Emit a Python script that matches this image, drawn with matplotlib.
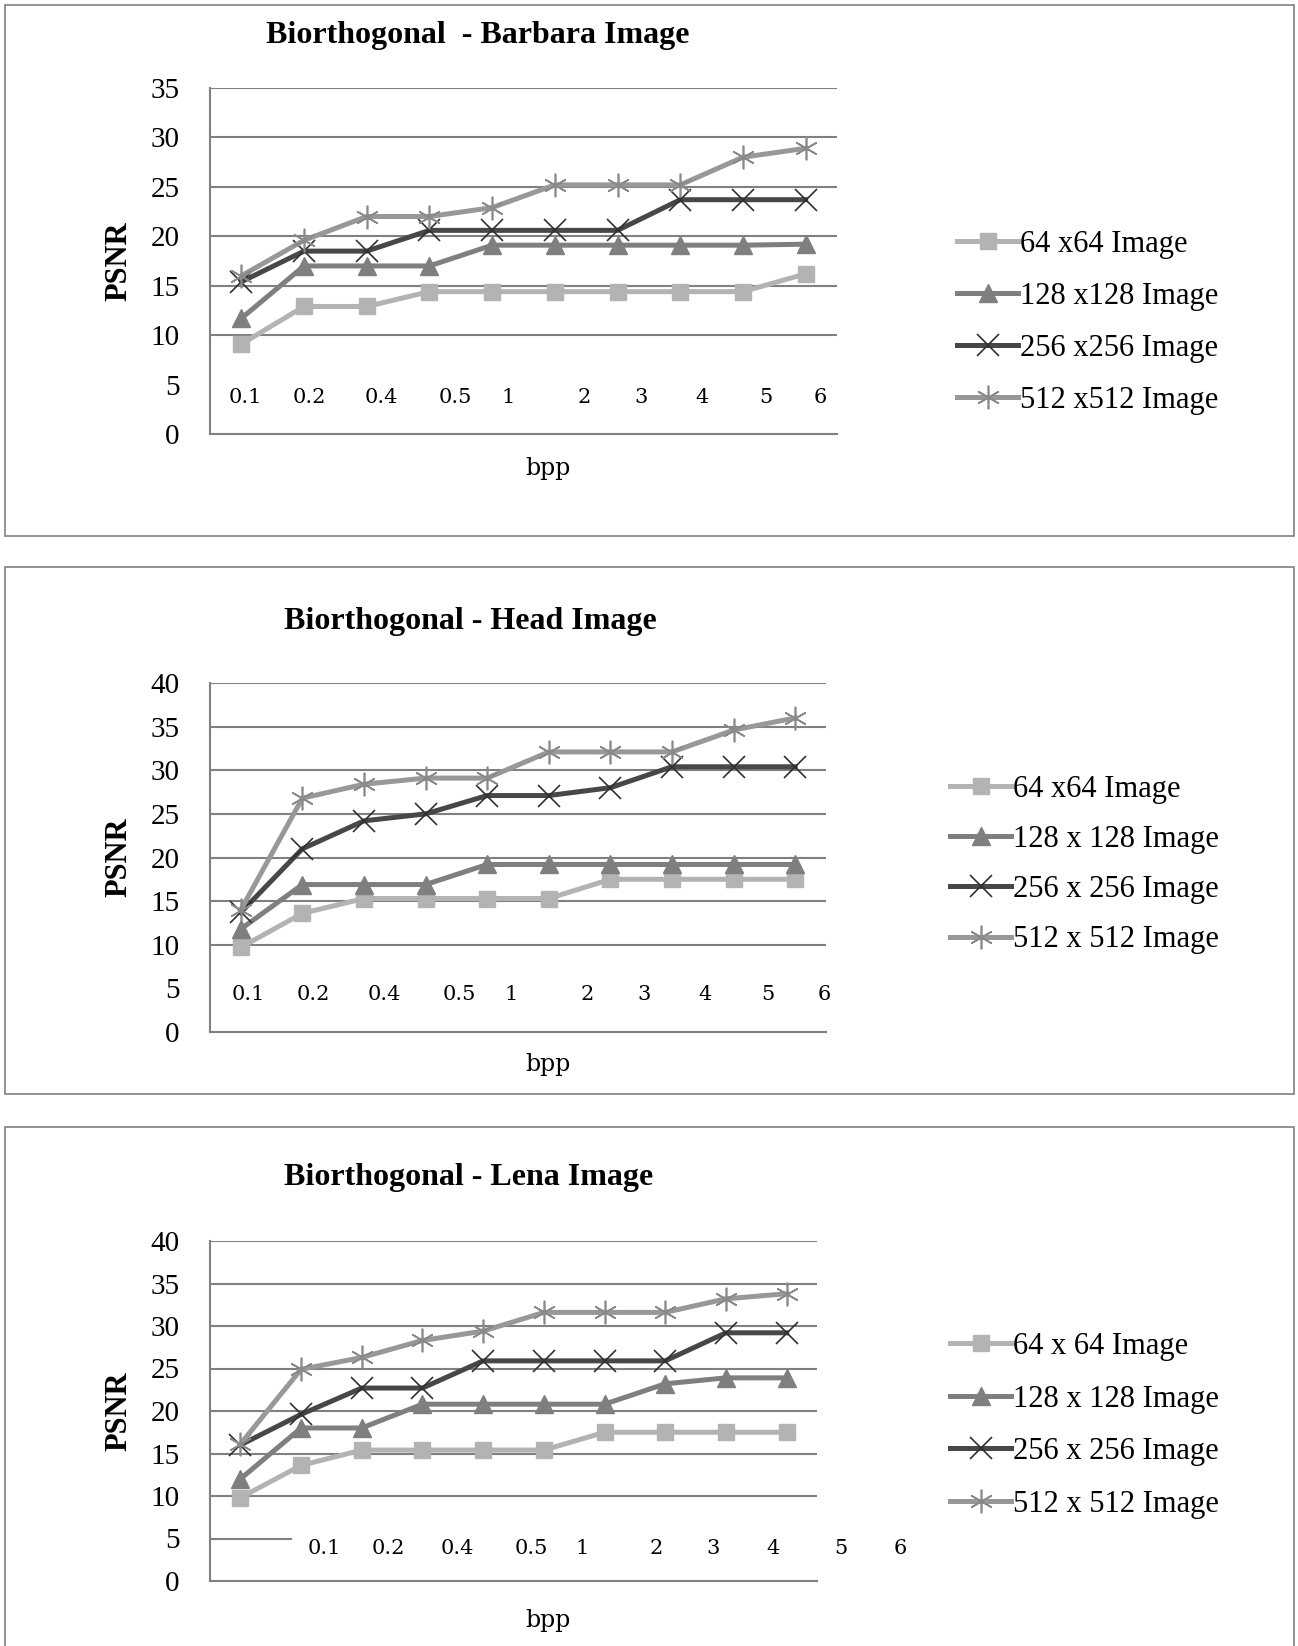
import matplotlib
matplotlib.use("Agg")
import matplotlib.pyplot as plt
from matplotlib.patches import Rectangle

plt.rcParams['font.family'] = ['Liberation Serif', 'DejaVu Serif']

bpp_labels = ["0.1", "0.2", "0.4", "0.5", "1", "2", "3", "4", "5", "6"]

# Barbara
barbara_64 = [9.1, 12.9, 12.9, 14.4, 14.4, 14.4, 14.4, 14.4, 14.4, 16.2]
barbara_128 = [11.7, 17.0, 17.0, 17.0, 19.1, 19.1, 19.1, 19.1, 19.1, 19.2]
barbara_256 = [15.4, 18.5, 18.5, 20.6, 20.6, 20.6, 20.6, 23.7, 23.7, 23.7]
barbara_512 = [16.0, 19.6, 22.0, 22.0, 22.9, 25.2, 25.2, 25.2, 28.0, 28.9]

# Head
head_64 = [9.7, 13.6, 15.3, 15.3, 15.3, 15.3, 17.5, 17.5, 17.5, 17.5]
head_128 = [11.8, 16.9, 16.9, 16.9, 19.2, 19.2, 19.2, 19.2, 19.2, 19.2]
head_256 = [13.7, 21.0, 24.2, 25.0, 27.1, 27.1, 28.0, 30.4, 30.4, 30.4]
head_512 = [14.0, 26.8, 28.4, 29.1, 29.1, 32.1, 32.1, 32.1, 34.6, 36.0]

# Lena
lena_64 = [9.8, 13.6, 15.4, 15.4, 15.4, 15.4, 17.5, 17.5, 17.5, 17.5]
lena_128 = [12.0, 18.0, 18.0, 20.8, 20.8, 20.8, 20.8, 23.2, 23.9, 23.9]
lena_256 = [16.0, 19.6, 22.7, 22.7, 25.9, 25.9, 25.9, 25.9, 29.2, 29.2]
lena_512 = [16.1, 24.9, 26.3, 28.3, 29.4, 31.6, 31.6, 31.6, 33.2, 33.8]

# where the (pasted) bpp labels sit, in category units
barbara_label_pos = [0.07, 1.09, 2.23, 3.42, 4.25, 5.46, 6.37, 7.34, 8.36, 9.23]
head_label_pos = [0.13, 1.17, 2.33, 3.54, 4.39, 5.62, 6.54, 7.53, 8.55, 9.47]
lena_label_pos = [1.39, 2.43, 3.58, 4.8, 5.63, 6.85, 7.78, 8.78, 9.9, 10.87]

W, H = 1298, 1646
fig = plt.figure(figsize=(W / 100, H / 100), dpi=100)


def fx(px):
    return px / W


def fy(py):
    return 1 - py / H


def panel(box, ax_px, title, title_xy, series, labels, ymax, label_pos, label_y,
          grid5, legend_xy, legend_space, bpp_y):
    # outer frame
    x0, y0, x1, y1 = box
    fig.patches.append(Rectangle((fx(x0), fy(y1)), fx(x1 - x0), (y1 - y0) / H,
                                 transform=fig.transFigure, fill=False,
                                 edgecolor="#808080", lw=1.2))
    l, t, r, b = ax_px
    ax = fig.add_axes([fx(l), fy(b), fx(r - l), (b - t) / H])
    n = len(bpp_labels)
    xs = list(range(n))
    ax.set_xlim(-0.5, n - 0.5)
    ax.set_ylim(0, ymax)
    for v in range(5, ymax + 1, 5):
        if v == 5:
            if grid5 > 0:
                ax.axhline(v, xmin=0, xmax=grid5, color="#808080", lw=1.5, zorder=1)
        else:
            ax.axhline(v, color="#808080", lw=1.5, zorder=1)
    for s in ["top", "right"]:
        ax.spines[s].set_visible(False)
    ax.spines["left"].set_color("#808080")
    ax.spines["bottom"].set_color("#808080")
    ax.spines["left"].set_linewidth(1.5)
    ax.spines["bottom"].set_linewidth(1.5)
    ax.set_xticks([])
    ax.set_yticks(range(0, ymax + 1, 5))
    ax.tick_params(axis="y", length=0, labelsize=21, pad=22)
    ax.set_ylabel("PSNR", fontsize=22, fontweight="bold", labelpad=12)

    styles = [
        dict(color="#b3b3b3", marker="s", ms=12, mec="#b3b3b3", mfc="#b3b3b3"),
        dict(color="#7f7f7f", marker="^", ms=13, mec="#7f7f7f", mfc="#7f7f7f"),
        dict(color="#474747", marker="x", ms=16, mec="#303030", mew=1.2),
        dict(color="#989898", marker=(6, 2, 0), ms=17, mec="#8a8a8a", mew=1.2),
    ]
    for ys, lab, st in zip(series, labels, styles):
        ax.plot(xs, ys, lw=3.6, label=lab, zorder=3, **st)

    for p, lab in zip(label_pos, bpp_labels):
        ax.text(p, label_y, lab, ha="center", va="center", fontsize=15,
                family="DejaVu Serif", clip_on=False, zorder=4)

    fig.text(fx(title_xy[0]), fy(title_xy[1]), title, ha="center", va="center",
             fontsize=23, fontweight="bold")
    fig.text(fx(548), fy(bpp_y), "bpp", ha="center", va="center", fontsize=17,
             family="DejaVu Serif")

    ax.legend(loc="upper left", bbox_to_anchor=(fx(legend_xy[0]), fy(legend_xy[1])),
              bbox_transform=fig.transFigure, frameon=False, fontsize=22,
              handlelength=2.0, handletextpad=0.05, labelspacing=legend_space,
              borderpad=0, borderaxespad=0)
    return ax


panel((5, 5, 1294, 536), (210, 88, 837, 434), "Biorthogonal  - Barbara Image", (478, 35),
      [barbara_64, barbara_128, barbara_256, barbara_512],
      ["64 x64 Image", "128 x128 Image", "256 x256 Image", "512 x512 Image"],
      35, barbara_label_pos, 3.7, 0.0, (957, 230), 0.75, 469)

panel((5, 567, 1294, 1094), (210, 683, 826, 1032), "Biorthogonal - Head Image", (470, 622),
      [head_64, head_128, head_256, head_512],
      ["64 x64 Image", "128 x 128 Image", "256 x 256 Image", "512 x 512 Image"],
      40, head_label_pos, 4.3, 0.0, (950, 775), 0.69, 1064)

panel((5, 1127, 1294, 1650), (210, 1241, 817, 1581), "Biorthogonal - Lena Image", (469, 1178),
      [lena_64, lena_128, lena_256, lena_512],
      ["64 x 64 Image", "128 x 128 Image", "256 x 256 Image", "512 x 512 Image"],
      40, lena_label_pos, 3.8, 0.134, (950, 1332), 0.77, 1620)

fig.savefig("out.png", dpi=100)
